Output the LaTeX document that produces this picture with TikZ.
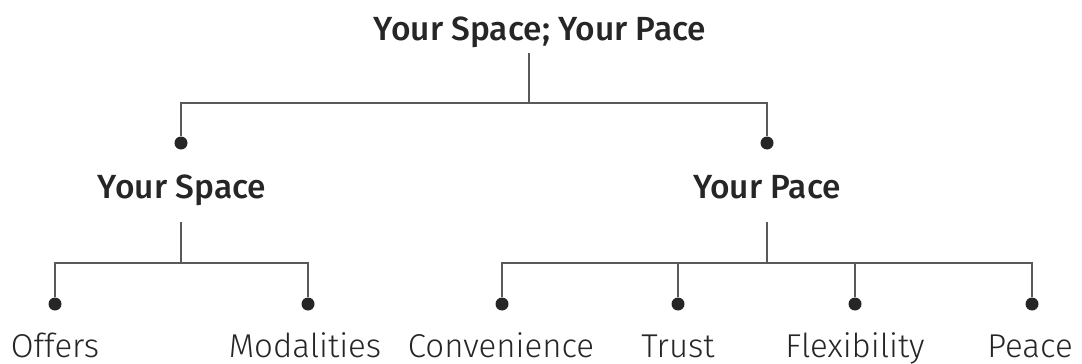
\documentclass[tikz,border=0pt]{standalone}
\usepackage{fontspec}
\setmainfont{Fira Sans}[UprightFont=* Light, BoldFont=* Medium]
\begin{document}
\begin{tikzpicture}[x=1pt,y=-1pt,
  conn/.style={draw=black!65, line width=1.4pt},
  dotn/.style={circle, fill=black!85, inner sep=0pt, minimum size=13pt},
  headlbl/.style={anchor=base, inner sep=0pt, font=\fontsize{33.5}{40}\selectfont\bfseries, text=black!85},
  leaflbl/.style={anchor=base, inner sep=0pt, font=\fontsize{33}{40}\selectfont, text=black!85}]
\useasboundingbox[fill=white] (0,0) rectangle (1082,364);
% top
\node[headlbl] (title) at (540,40) {Your Space; Your Pace};
\coordinate (t0) at (529,53);
\coordinate (h0) at (529,103);
\node[dotn] (dS) at (181,143) {};
\node[dotn] (dP) at (767,143) {};
\draw[conn] (t0) -- (h0);
\draw[conn] (h0) -| (dS);
\draw[conn] (h0) -| (dP);
% second level
\node[headlbl] (space) at (182,198) {Your Space};
\node[headlbl] (pace) at (767,198) {Your Pace};
\coordinate (s0) at (181,222);
\coordinate (hs) at (181,263);
\coordinate (p0) at (767,222);
\coordinate (hp) at (767,263);
\draw[conn] (s0) -- (hs);
\draw[conn] (p0) -- (hp);
% leaves dots
\node[dotn] (d1) at (55,304) {};
\node[dotn] (d2) at (308,304) {};
\node[dotn] (d3) at (502,304) {};
\node[dotn] (d4) at (678,304) {};
\node[dotn] (d5) at (855,304) {};
\node[dotn] (d6) at (1032,304) {};
\draw[conn] (hs) -| (d1);
\draw[conn] (hs) -| (d2);
\draw[conn] (hp) -| (d3);
\draw[conn] (hp) -| (d6);
\draw[conn] (d4 |- hp) -- (d4);
\draw[conn] (d5 |- hp) -- (d5);
% leaf labels
\node[leaflbl] (l1) at (55,357) {Offers};
\node[leaflbl] (l2) at (305,357) {Modalities};
\node[leaflbl] (l3) at (501,357) {Convenience};
\node[leaflbl] (l4) at (678,357) {Trust};
\node[leaflbl] (l5) at (855,357) {Flexibility};
\node[leaflbl] (l6) at (1030,357) {Peace};
\end{tikzpicture}
\end{document}
